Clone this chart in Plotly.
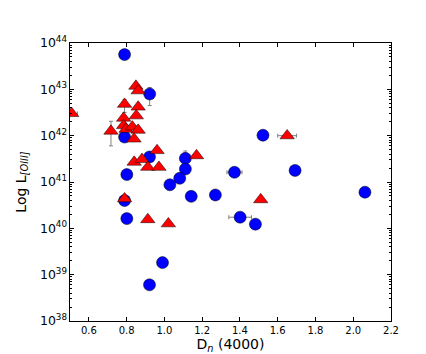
import numpy as np
import plotly.graph_objects as go

# blue circles: Dn(4000) and log L[OIII]
blue_dn = [0.789, 0.922, 0.789, 0.921, 1.111, 1.111, 1.081, 1.029, 0.801, 1.142,
           0.789, 0.801, 0.990, 0.921, 1.522, 1.371, 1.692, 1.270, 2.062, 1.401, 1.482]
blue_logl = [43.75, 42.90, 41.97, 41.54, 41.51, 41.28, 41.08, 40.94, 41.16, 40.69,
             40.60, 40.21, 39.26, 38.78, 42.01, 41.21, 41.25, 40.72, 40.78, 40.24, 40.09]
blue_err_hi = [0, 0.14, 0, 0, 0.16, 0, 0, 0, 0, 0,
               0, 0, 0, 0, 0, 0, 0, 0, 0, 0, 0]
blue_err_lo = [0, 0.25, 0, 0, 0, 0, 0, 0, 0, 0,
               0, 0, 0, 0, 0, 0, 0, 0, 0, 0, 0]
blue_xerr = [0, 0, 0, 0, 0, 0, 0, 0, 0, 0,
             0, 0, 0, 0, 0, 0.04, 0, 0, 0, 0.06, 0]

# red triangles
red_dn = [0.509, 0.717, 0.849, 0.861, 0.789, 0.861, 0.784, 0.851, 0.784, 0.797,
          0.830, 0.861, 0.839, 0.961, 0.840, 0.881, 0.912, 0.971, 1.170, 0.789,
          0.912, 1.021, 1.650, 1.510]
red_logl = [42.48, 42.10, 43.07, 42.97, 42.68, 42.62, 42.38, 42.43, 42.22, 42.14,
            42.19, 42.12, 41.93, 41.68, 41.43, 41.49, 41.32, 41.32, 41.57, 40.64,
            40.19, 40.10, 42.00, 40.62]
red_err_hi = [0, 0.21, 0.05, 0, 0.1, 0, 0, 0, 0, 0,
              0, 0, 0, 0, 0, 0, 0, 0, 0, 0, 0, 0, 0, 0]
red_err_lo = [0, 0.32, 0.05, 0, 0.18, 0, 0, 0, 0, 0,
              0, 0, 0, 0, 0, 0, 0, 0, 0, 0, 0, 0, 0, 0]
red_xerr = [0.03, 0, 0, 0, 0, 0, 0, 0, 0, 0,
            0, 0, 0, 0, 0, 0, 0, 0, 0, 0, 0, 0, 0.05, 0]

x_ticks = [0.6, 0.8, 1.0, 1.2, 1.4, 1.6, 1.8, 2.0, 2.2]


def errs(logl, hi, lo):
    l = 10 ** np.array(logl)
    up = 10 ** (np.array(logl) + np.array(hi)) - l
    dn = l - 10 ** (np.array(logl) - np.array(lo))
    return l, up, dn


fig = go.Figure()

for dn, logl, hi, lo, xe, color, symbol, size in [
    (blue_dn, blue_logl, blue_err_hi, blue_err_lo, blue_xerr, "#0000ff", "circle", 12),
    (red_dn, red_logl, red_err_hi, red_err_lo, red_xerr, "#ff0000", "triangle-up", 12.5),
]:
    l, up, down = errs(logl, hi, lo)
    fig.add_trace(go.Scatter(
        x=dn, y=l, mode="markers",
        marker=dict(color=color, symbol=symbol, size=size,
                    line=dict(color="black", width=0.5)),
        error_y=dict(type="data", array=up, arrayminus=down, symmetric=False,
                     color="#808080", thickness=1, width=2),
        error_x=dict(type="data", array=xe, color="#808080", thickness=1, width=2),
        showlegend=False,
    ))

axis_common = dict(
    showline=True, linecolor="black", linewidth=1, mirror="allticks",
    ticks="inside", tickcolor="black", showgrid=False, zeroline=False,
    tickfont=dict(family="DejaVu Sans", size=10, color="black"),
)

fig.update_xaxes(
    range=[0.5, 2.2], tickvals=x_ticks, ticktext=[f"{v:.1f}" for v in x_ticks],
    ticklen=4,
    title=dict(text="D<sub><i>n</i></sub> (4000)", standoff=4,
               font=dict(family="DejaVu Sans", size=14, color="black")),
    **axis_common,
)
fig.update_yaxes(
    type="log", range=[38, 44], dtick=1, exponentformat="power", ticklen=4,
    minor=dict(ticks="inside", ticklen=2, dtick="D1", tickcolor="black"),
    title=dict(text="Log L<sub><i>[OIII]</i></sub>", standoff=10,
               font=dict(family="DejaVu Sans", size=14, color="black")),
    **axis_common,
)

fig.update_layout(
    width=426, height=354,
    margin=dict(l=53, r=43, t=35, b=35),
    paper_bgcolor="white", plot_bgcolor="white",
)

fig.write_html("out.html")
